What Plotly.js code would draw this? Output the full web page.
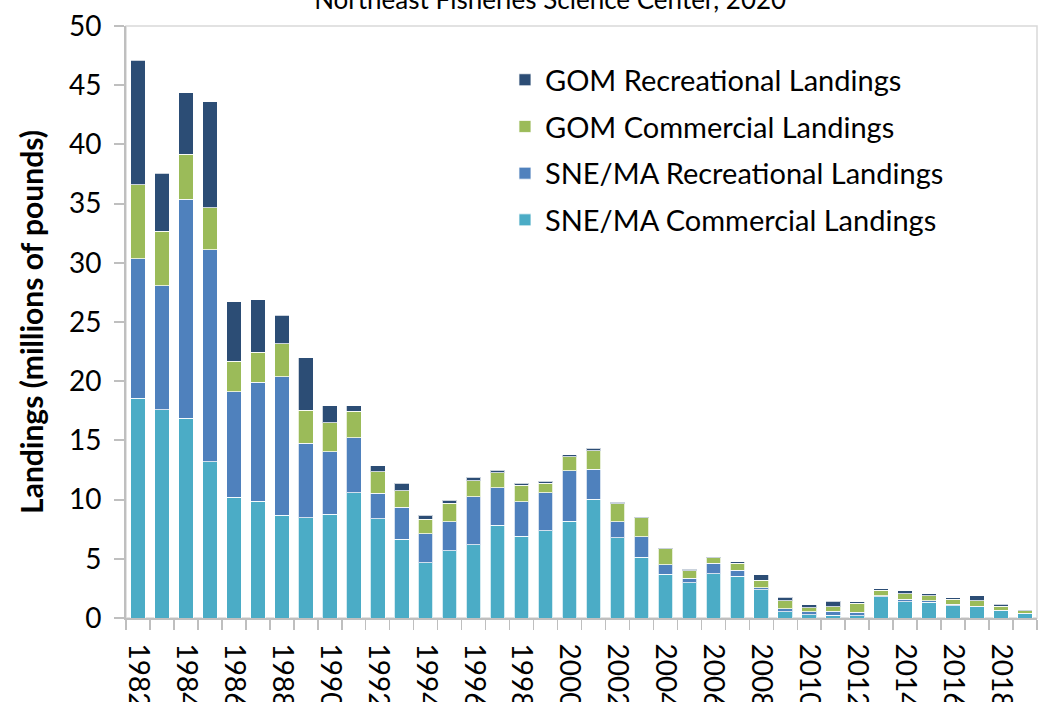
<!DOCTYPE html>
<html>
<head>
<meta charset="utf-8">
<script src="https://cdn.plot.ly/plotly-3.0.1.min.js"></script>
<style>
  html, body { margin: 0; padding: 0; background: #fff; }
  #chart { width: 1040px; height: 702px; }
</style>
</head>
<body>
<div id="chart"></div>
<script>
const years = [1982,1983,1984,1985,1986,1987,1988,1989,1990,1991,1992,1993,1994,1995,1996,1997,1998,1999,2000,2001,2002,2003,2004,2005,2006,2007,2008,2009,2010,2011,2012,2013,2014,2015,2016,2017,2018,2019];
const tickYears = [1982,1984,1986,1988,1990,1992,1994,1996,1998,2000,2002,2004,2006,2008,2010,2012,2014,2016,2018];
const tickLabels = ["1982","1984","1986","1988","1990","1992","1994","1996","1998","2000","2002","2004","2006","2008","2010","2012","2014","2016","2018"];

const sneCommercial = [18.55,17.57,16.87,13.2,10.2,9.85,8.67,8.45,8.76,10.56,8.39,6.65,4.67,5.69,6.17,7.83,6.9,7.35,8.17,10.03,6.78,5.13,3.69,2.96,3.73,3.53,2.4,0.53,0.27,0.24,0.19,1.81,1.38,1.33,1.04,0.95,0.62,0.36];
const sneRecreational = [11.8,10.5,18.5,17.9,8.9,10.05,11.7,6.3,5.3,4.67,2.14,2.7,2.45,2.45,4.08,3.17,2.9,3.23,4.27,2.55,1.36,1.74,0.81,0.4,0.91,0.52,0.14,0.26,0.26,0.32,0.28,0.05,0.2,0.11,0.11,0.06,0.02,0.06];
const gomCommercial = [6.25,4.6,3.8,3.55,2.6,2.55,2.8,2.8,2.45,2.25,1.83,1.38,1.24,1.57,1.35,1.25,1.4,0.8,1.16,1.55,1.51,1.6,1.33,0.65,0.43,0.56,0.65,0.65,0.34,0.39,0.76,0.48,0.48,0.42,0.43,0.45,0.34,0.2];
const gomRecreational = [10.5,4.9,5.2,8.95,5.0,4.45,2.4,4.45,1.43,0.45,0.48,0.64,0.31,0.23,0.28,0.22,0.2,0.17,0.17,0.2,0.12,0.09,0.08,0.09,0.11,0.15,0.46,0.33,0.23,0.46,0.15,0.14,0.23,0.2,0.11,0.43,0.2,0.08];

const seriesNames = ["SNE/MA Commercial Landings","SNE/MA Recreational Landings","GOM Commercial Landings","GOM Recreational Landings"];
const seriesValues = [sneCommercial, sneRecreational, gomCommercial, gomRecreational];
const seriesColors = ["#4BACC6","#4F81BD","#9BBB59","#2C4D75"];

const FONT = "Lato, 'Open Sans', sans-serif";

const traces = seriesNames.map((name, i) => ({
  type: "bar",
  name: name,
  x: years,
  y: seriesValues[i],
  legendgroup: "g" + i,
  legendrank: 1000 - i,
  marker: { color: seriesColors[i], line: { color: "rgba(255,255,255,0.75)", width: 1 } },
  hoverinfo: "x+y+name"
}));

const layout = {
  width: 1040,
  height: 702,
  margin: { l: 126, r: 3, t: 26, b: 84, pad: 0 },
  paper_bgcolor: "#ffffff",
  plot_bgcolor: "#ffffff",
  barmode: "stack",
  bargap: 0.39,
  font: { family: FONT, color: "#000000" },
  title: {
    text: "Northeast Fisheries Science Center, 2020",
    font: { family: FONT, size: 26, color: "#000000" },
    x: 0.529, xanchor: "center",
    yref: "container", y: 1.0, yanchor: "middle"
  },
  xaxis: {
    type: "linear",
    range: [1981.5, 2019.5],
    tickmode: "array",
    tickvals: tickYears,
    ticktext: tickLabels,
    tickangle: 90,
    ticks: "",
    ticklabelstandoff: 18,
    tickfont: { family: FONT, size: 28, color: "#000000" },
    showgrid: false,
    zeroline: false,
    showline: true,
    linecolor: "#bfbfbf",
    linewidth: 2,
    minor: { tick0: 1981.5, dtick: 1, ticks: "outside", ticklen: 10, tickcolor: "#bfbfbf", tickwidth: 1.5, showgrid: false },
    fixedrange: true
  },
  yaxis: {
    range: [0, 50],
    tickvals: [0,5,10,15,20,25,30,35,40,45,50],
    ticks: "outside",
    ticklen: 10,
    tickcolor: "#bfbfbf",
    tickwidth: 2,
    ticklabelstandoff: 7,
    tickfont: { family: FONT, size: 28, color: "#000000" },
    showgrid: false,
    zeroline: false,
    showline: true,
    linecolor: "#bfbfbf",
    linewidth: 2,
    title: {
      text: "<b>Landings (millions of pounds)</b>",
      font: { family: FONT, size: 30, color: "#000000" },
      standoff: 16
    },
    fixedrange: true
  },
  legend: {
    x: 0.416, xanchor: "left",
    y: 0.952, yanchor: "top",
    traceorder: "grouped",
    tracegroupgap: 6,
    bgcolor: "rgba(0,0,0,0)",
    font: { family: FONT, size: 29, color: "#000000" }
  },
  shapes: [{
    type: "rect", xref: "paper", yref: "paper", x0: 0, x1: 1, y0: 0, y1: 1,
    line: { color: "#d9d9d9", width: 1.5 }, layer: "below"
  }],
  showlegend: true
};

Plotly.newPlot("chart", traces, layout, { displayModeBar: false, staticPlot: true });
</script>
</body>
</html>
